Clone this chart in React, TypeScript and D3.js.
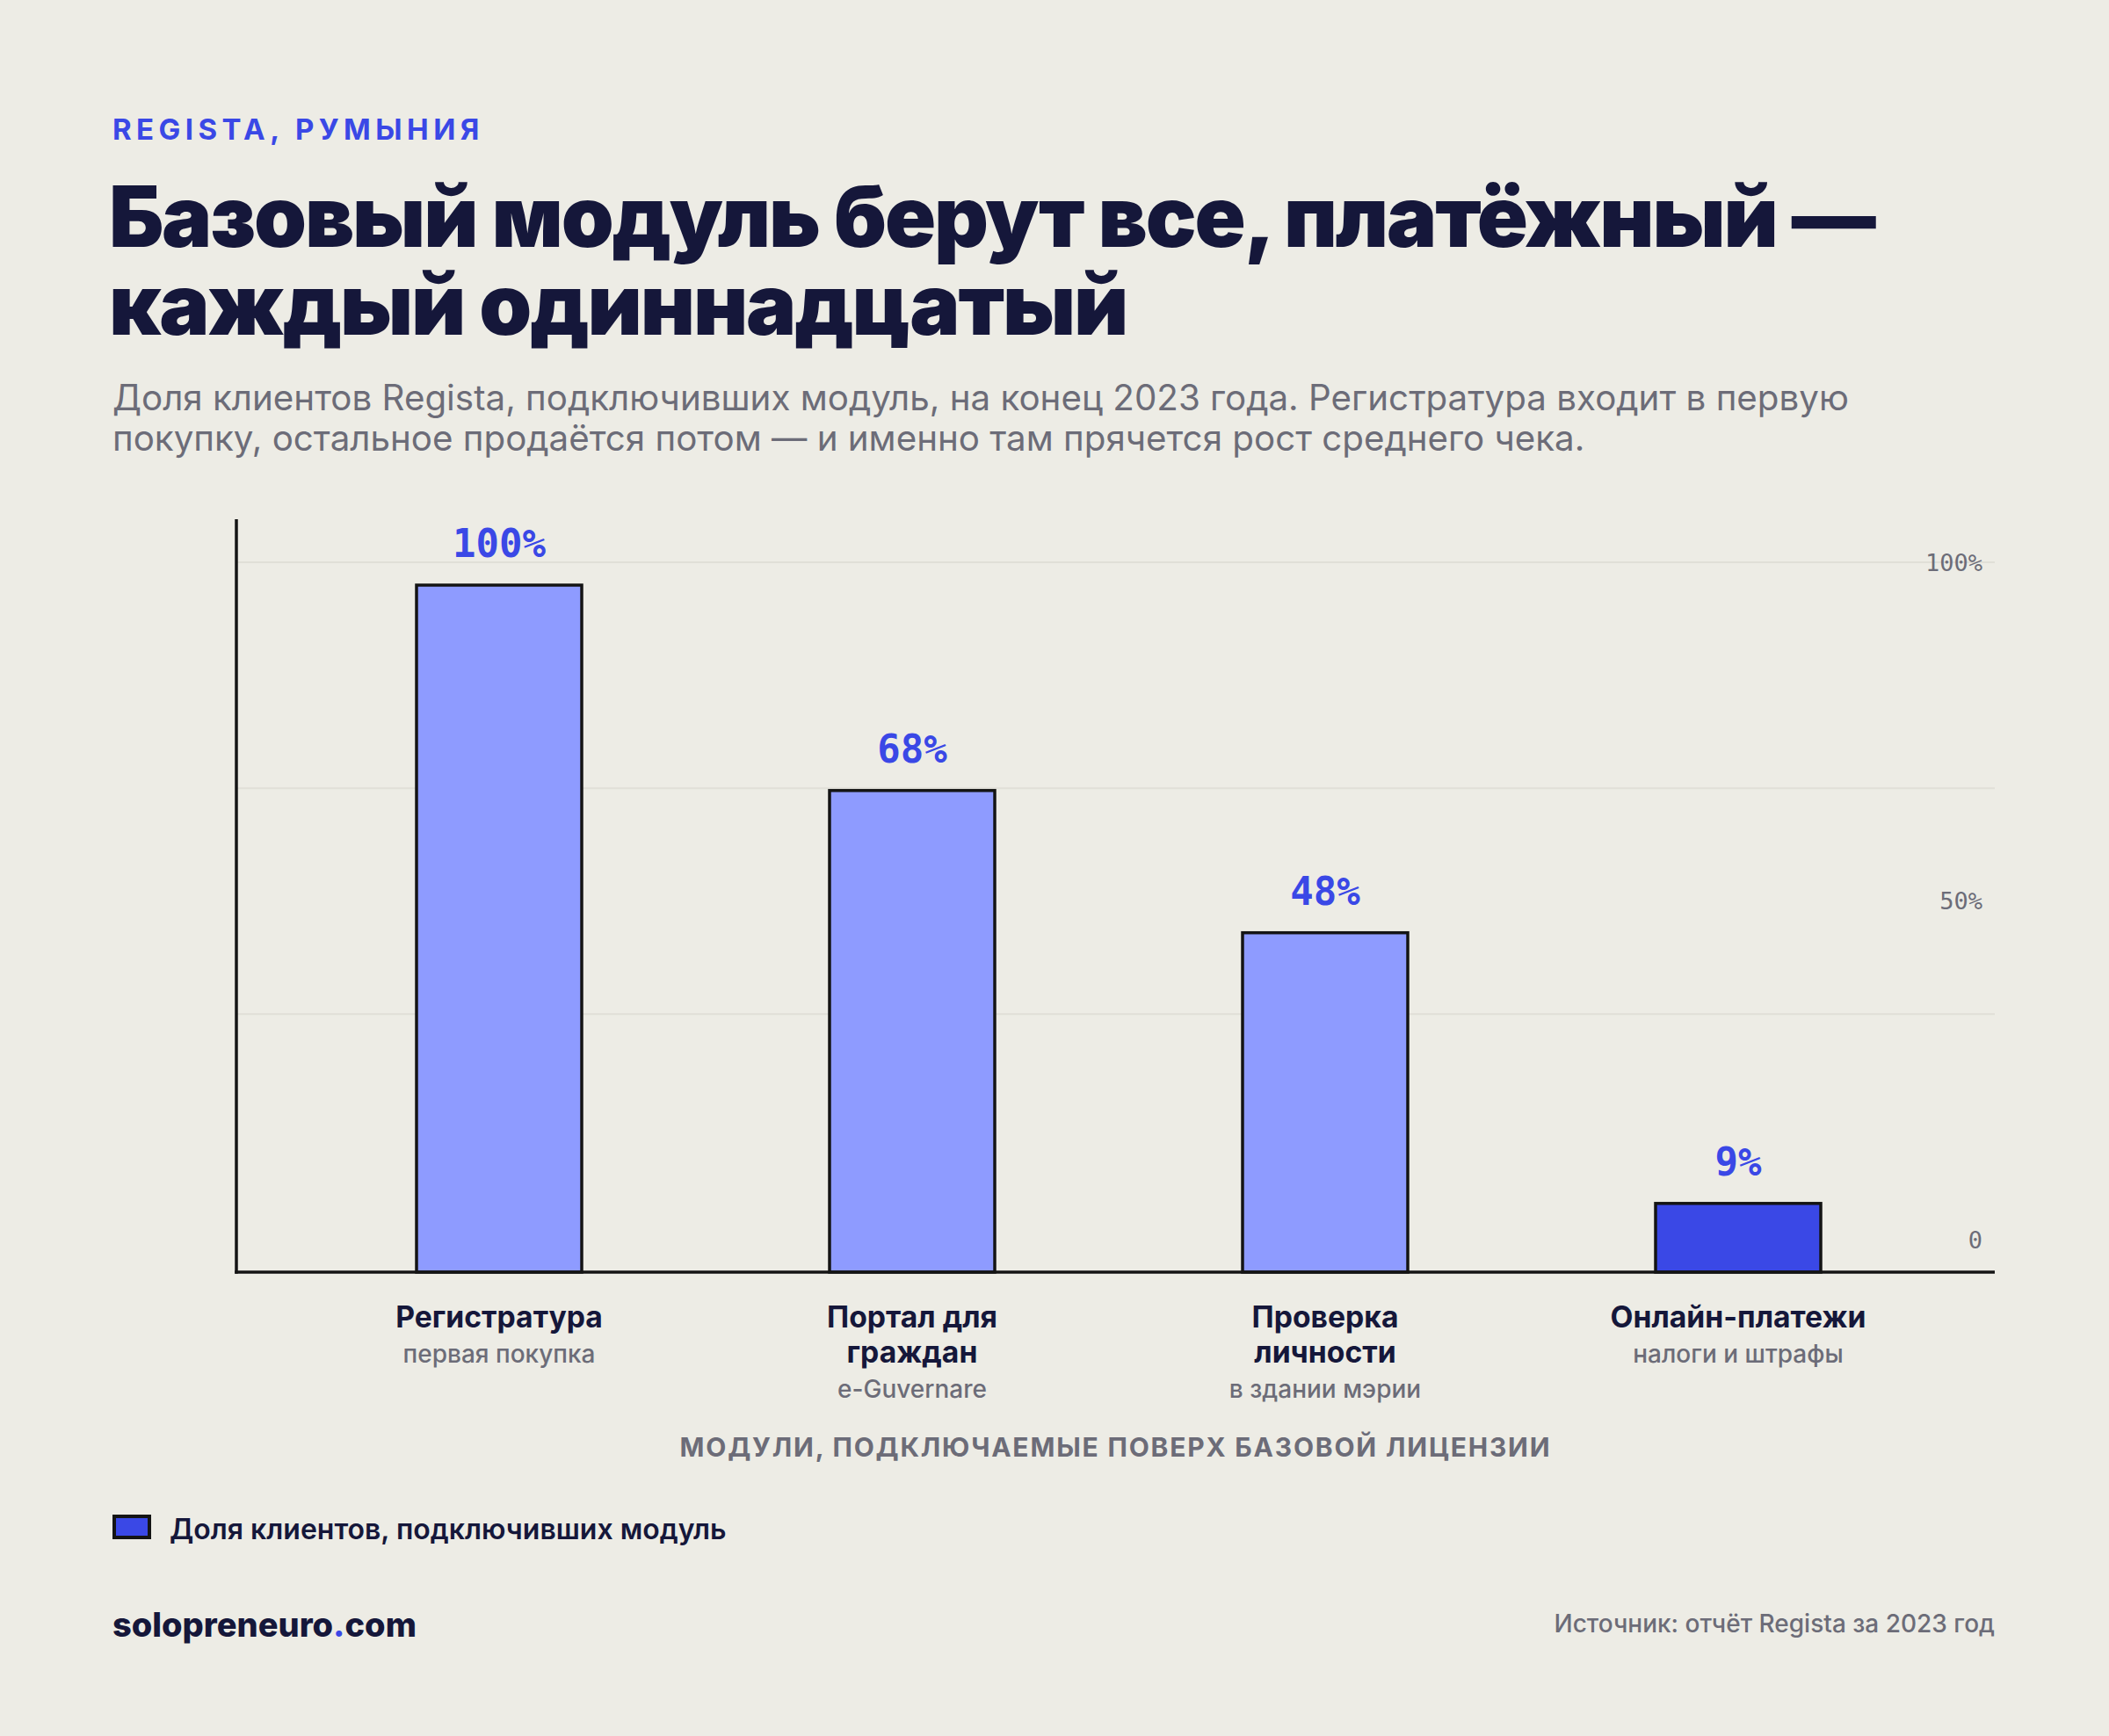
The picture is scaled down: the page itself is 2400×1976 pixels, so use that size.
import React, { useEffect } from "react";
import * as d3 from "d3";

const kicker = "REGISTA, РУМЫНИЯ";
const titleLines = ["Базовый модуль берут все, платёжный —", "каждый одиннадцатый"];
const subtitleLines = [
  "Доля клиентов Regista, подключивших модуль, на конец 2023 года. Регистратура входит в первую",
  "покупку, остальное продаётся потом — и именно там прячется рост среднего чека.",
];
const categories = ["Регистратура", "Портал для граждан", "Проверка личности", "Онлайн-платежи"];
const categoryLines = [["Регистратура"], ["Портал для", "граждан"], ["Проверка", "личности"], ["Онлайн-платежи"]];
const categoryNotes = ["первая покупка", "e-Guvernare", "в здании мэрии", "налоги и штрафы"];
// bar heights (percent of clients)
const barValues = [100, 70.1, 49.4, 10];
const valueLabels = ["100%", "68%", "48%", "9%"];
const highlighted = [false, false, false, true];
const tickValues = [0, 50, 100];
const tickLabels = ["0", "50%", "100%"];
const gridValues = [100 / 3, 200 / 3, 100];
const xAxisTitle = "МОДУЛИ, ПОДКЛЮЧАЕМЫЕ ПОВЕРХ БАЗОВОЙ ЛИЦЕНЗИИ";
const legendLabel = "Доля клиентов, подключивших модуль";
const brandName = "solopreneuro";
const brandTld = "com";
const sourceText = "Источник: отчёт Regista за 2023 год";

const W = 2400;
const H = 1976;
const BG = "#edece5";
const INK = "#15173a";
const GRAY = "#6c6c78";
const BLUE = "#3a48e6";
const LIGHT = "#8e9bff";
const SANS = "Inter, 'Noto Sans', sans-serif";
const MONO = "'DejaVu Sans Mono', 'Liberation Mono', monospace";

const plotLeft = 269;
const plotRight = 2270;
const plotBottom = 1448;
const plotTop = 591;

export default function App() {
  useEffect(() => {
    document.body.style.margin = "0";
    document.body.style.background = BG;
  }, []);

  const x = d3
    .scaleBand<string>()
    .domain(categories)
    .range([333, 2213])
    .paddingInner(0.6)
    .paddingOuter(0.3);
  const y = d3.scaleLinear().domain([0, 100]).range([plotBottom, 666]);
  const yGrid = d3.scaleLinear().domain([0, 100]).range([1411.5, 640]);

  return (
    <svg width={W} height={H} viewBox={`0 0 ${W} ${H}`} style={{ display: "block", background: BG }}>
      <rect x={0} y={0} width={W} height={H} fill={BG} />

      {/* header */}
      <text x={128} y={159} fontFamily={SANS} fontWeight={700} fontSize={33} letterSpacing="0.165em" fill={BLUE}>
        {kicker}
      </text>
      {titleLines.map((t, i) => (
        <text
          key={i}
          x={124}
          y={280.5 + i * 100.5}
          fontFamily={SANS}
          fontWeight={900}
          fontSize={96}
          letterSpacing="-0.022em"
          fill={INK}
        >
          {t}
        </text>
      ))}
      {subtitleLines.map((t, i) => (
        <text key={i} x={128} y={467 + i * 46} fontFamily={SANS} fontWeight={400} fontSize={40.3} fill={GRAY}>
          {t}
        </text>
      ))}

      {/* gridlines */}
      {gridValues.map((v, i) => (
        <line key={i} x1={plotLeft} x2={plotRight} y1={yGrid(v)} y2={yGrid(v)} stroke="#e0dfd7" strokeWidth={2} />
      ))}

      {/* tick labels */}
      {tickValues.map((v, i) => (
        <text
          key={i}
          x={2256}
          y={yGrid(v)}
          dy="0.36em"
          textAnchor="end"
          fontFamily={MONO}
          fontSize={27}
          fill="#6c6c78"
        >
          {tickLabels[i]}
        </text>
      ))}

      {/* bars */}
      {categories.map((c, i) => (
        <rect
          key={c}
          x={x(c)}
          y={y(barValues[i])}
          width={x.bandwidth()}
          height={y(0) - y(barValues[i])}
          fill={highlighted[i] ? BLUE : LIGHT}
          stroke="#141414"
          strokeWidth={3.5}
        />
      ))}

      {/* value labels */}
      {categories.map((c, i) => (
        <text
          key={c}
          x={(x(c) as number) + x.bandwidth() / 2}
          y={y(barValues[i]) - 32}
          textAnchor="middle"
          fontFamily={MONO}
          fontWeight={700}
          fontSize={44}
          fill={BLUE}
        >
          {valueLabels[i]}
        </text>
      ))}

      {/* axes */}
      <line x1={plotLeft} x2={plotLeft} y1={plotTop} y2={plotBottom + 1.75} stroke="#141414" strokeWidth={3.5} />
      <line x1={plotLeft - 1.75} x2={plotRight} y1={plotBottom} y2={plotBottom} stroke="#141414" strokeWidth={3.5} />

      {/* category labels */}
      {categories.map((c, i) => {
        const cx = (x(c) as number) + x.bandwidth() / 2;
        const lines = categoryLines[i];
        return (
          <g key={c}>
            {lines.map((l, j) => (
              <text
                key={j}
                x={cx}
                y={1511 + j * 40}
                textAnchor="middle"
                fontFamily={SANS}
                fontWeight={700}
                fontSize={33.7}
                fill={INK}
              >
                {l}
              </text>
            ))}
            <text
              x={cx}
              y={1511 + lines.length * 40}
              textAnchor="middle"
              fontFamily={SANS}
              fontWeight={500}
              fontSize={28}
              fill={GRAY}
            >
              {categoryNotes[i]}
            </text>
          </g>
        );
      })}

      {/* x axis title */}
      <text
        x={(plotLeft + plotRight) / 2}
        y={1658}
        textAnchor="middle"
        fontFamily={SANS}
        fontWeight={700}
        fontSize={30}
        letterSpacing="0.06em"
        fill={GRAY}
      >
        {xAxisTitle}
      </text>

      {/* legend */}
      <rect x={130} y={1726} width={40} height={24} fill={BLUE} stroke="#141414" strokeWidth={4} />
      <text x={193} y={1752} fontFamily={SANS} fontWeight={600} fontSize={32} fill={INK}>
        {legendLabel}
      </text>

      {/* footer */}
      <text x={128} y={1863} fontFamily={SANS} fontWeight={800} fontSize={38} fill={INK}>
        {brandName}
        <tspan fill={BLUE}>.</tspan>
        {brandTld}
      </text>
      <text x={2270} y={1858} textAnchor="end" fontFamily={SANS} fontWeight={500} fontSize={28} fill={GRAY}>
        {sourceText}
      </text>
    </svg>
  );
}
